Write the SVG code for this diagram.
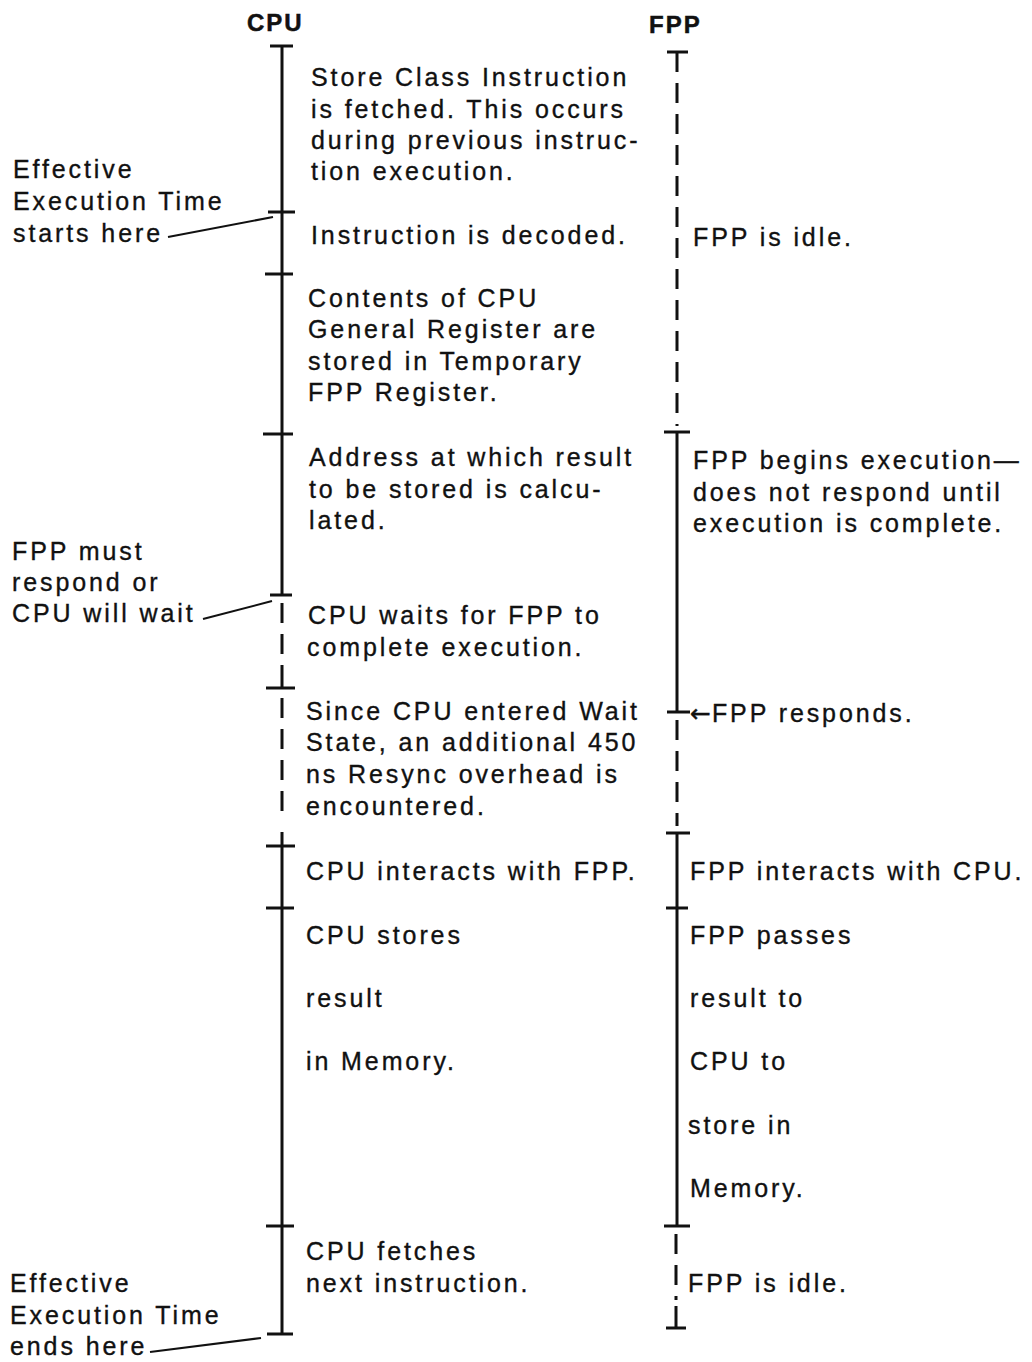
<svg xmlns="http://www.w3.org/2000/svg" width="1032" height="1362" viewBox="0 0 1032 1362">
<style>
.t{font-family:"Liberation Sans",Arial,sans-serif;font-size:25px;letter-spacing:2.9px;fill:#111;stroke:#111;stroke-width:0.35}
.h{font-family:"Liberation Sans",Arial,sans-serif;font-size:24px;font-weight:bold;letter-spacing:2px;fill:#111;stroke:#111;stroke-width:0.5}
.ar{font-family:"DejaVu Sans",sans-serif;letter-spacing:1px}
.ln{stroke:#111;stroke-width:3;fill:none}
.dl{stroke:#111;stroke-width:3;fill:none;stroke-dasharray:20 11}
.bar{stroke:#111;stroke-width:3}
.ld{stroke:#111;stroke-width:2;fill:none}
</style>
<rect width="1032" height="1362" fill="#fff"/>
<g id="headers">
<text class="h" x="247" y="31">CPU</text>
<text class="h" x="649" y="33">FPP</text>
</g>
<g id="cpu-timeline">
<line class="ln" x1="282" y1="46" x2="282" y2="595"/>
<line class="bar" x1="270" y1="46" x2="293" y2="46"/>
<line class="bar" x1="268" y1="212" x2="295" y2="212"/>
<line class="bar" x1="265" y1="274" x2="293" y2="274"/>
<line class="bar" x1="263" y1="434" x2="293" y2="434"/>
<line class="bar" x1="270" y1="595" x2="292" y2="595"/>
<line class="dl" x1="282" y1="603" x2="282" y2="676"/>
<line class="ln" x1="282" y1="676" x2="282" y2="688"/>
<line class="bar" x1="266" y1="688" x2="295" y2="688"/>
<line class="dl" x1="282" y1="698" x2="282" y2="822"/>
<line class="ln" x1="282" y1="832" x2="282" y2="1334"/>
<line class="bar" x1="266" y1="846" x2="295" y2="846"/>
<line class="bar" x1="266" y1="908" x2="294" y2="908"/>
<line class="bar" x1="266" y1="1226" x2="294" y2="1226"/>
<line class="bar" x1="267" y1="1334" x2="293" y2="1334"/>
</g>
<g id="fpp-timeline">
<line class="bar" x1="667" y1="52" x2="688" y2="52"/>
<line class="dl" x1="677" y1="52" x2="677" y2="426"/>
<line class="bar" x1="664" y1="432" x2="690" y2="432"/>
<line class="ln" x1="677" y1="432" x2="677" y2="712"/>
<line class="bar" x1="667" y1="712" x2="690" y2="712"/>
<line class="dl" x1="677" y1="720" x2="677" y2="826"/>
<line class="bar" x1="666" y1="833" x2="690" y2="833"/>
<line class="ln" x1="677" y1="833" x2="677" y2="1226"/>
<line class="bar" x1="666" y1="908" x2="688" y2="908"/>
<line class="bar" x1="664" y1="1226" x2="690" y2="1226"/>
<line class="dl" x1="676" y1="1234" x2="676" y2="1300"/>
<line class="ln" x1="676" y1="1306" x2="676" y2="1328"/>
<line class="bar" x1="666" y1="1328" x2="686" y2="1328"/>
</g>
<g id="connectors">
<line class="ld" x1="168" y1="237" x2="273" y2="217"/>
<line class="ld" x1="203" y1="619" x2="272" y2="601"/>
<line class="ld" x1="150" y1="1352" x2="261" y2="1338"/>
</g>
<g id="label-start">
<text class="t" x="13" y="178">Effective</text>
<text class="t" x="13" y="210">Execution Time</text>
<text class="t" x="13" y="242">starts here</text>
</g>
<g id="label-wait">
<text class="t" x="12" y="560">FPP must</text>
<text class="t" x="12" y="591">respond or</text>
<text class="t" x="12" y="622">CPU will wait</text>
</g>
<g id="label-end">
<text class="t" x="10" y="1292">Effective</text>
<text class="t" x="10" y="1324">Execution Time</text>
<text class="t" x="10" y="1355">ends here</text>
</g>
<g id="cpu-fetch">
<text class="t" x="311" y="86">Store Class Instruction</text>
<text class="t" x="311" y="118">is fetched. This occurs</text>
<text class="t" x="311" y="149">during previous instruc-</text>
<text class="t" x="311" y="180">tion execution.</text>
</g>
<g id="cpu-decode"><text class="t" x="311" y="244">Instruction is decoded.</text></g>
<g id="fpp-idle-1"><text class="t" x="693" y="246">FPP is idle.</text></g>
<g id="cpu-contents">
<text class="t" x="308" y="307">Contents of CPU</text>
<text class="t" x="308" y="338">General Register are</text>
<text class="t" x="308" y="370">stored in Temporary</text>
<text class="t" x="308" y="401">FPP Register.</text>
</g>
<g id="cpu-address">
<text class="t" x="309" y="466">Address at which result</text>
<text class="t" x="309" y="498">to be stored is calcu-</text>
<text class="t" x="309" y="529">lated.</text>
</g>
<g id="fpp-begins">
<text class="t" x="693" y="469">FPP begins execution—</text>
<text class="t" x="693" y="501">does not respond until</text>
<text class="t" x="693" y="532">execution is complete.</text>
</g>
<g id="cpu-waits">
<text class="t" x="308" y="624">CPU waits for FPP to</text>
<text class="t" x="307" y="656">complete execution.</text>
</g>
<g id="cpu-resync">
<text class="t" x="306" y="720">Since CPU entered Wait</text>
<text class="t" x="306" y="751">State, an additional 450</text>
<text class="t" x="306" y="783">ns Resync overhead is</text>
<text class="t" x="306" y="815">encountered.</text>
</g>
<g id="fpp-responds"><text class="t" x="690" y="722"><tspan class="ar">←</tspan>FPP responds.</text></g>
<g id="cpu-interacts"><text class="t" x="306" y="880">CPU interacts with FPP.</text></g>
<g id="fpp-interacts"><text class="t" x="690" y="880">FPP interacts with CPU.</text></g>
<g id="cpu-stores">
<text class="t" x="306" y="944">CPU stores</text>
<text class="t" x="306" y="1007">result</text>
<text class="t" x="306" y="1070">in Memory.</text>
</g>
<g id="fpp-passes">
<text class="t" x="690" y="944">FPP passes</text>
<text class="t" x="690" y="1007">result to</text>
<text class="t" x="690" y="1070">CPU to</text>
<text class="t" x="688" y="1134">store in</text>
<text class="t" x="690" y="1197">Memory.</text>
</g>
<g id="cpu-next">
<text class="t" x="306" y="1260">CPU fetches</text>
<text class="t" x="306" y="1292">next instruction.</text>
</g>
<g id="fpp-idle-2"><text class="t" x="688" y="1292">FPP is idle.</text></g>
</svg>
